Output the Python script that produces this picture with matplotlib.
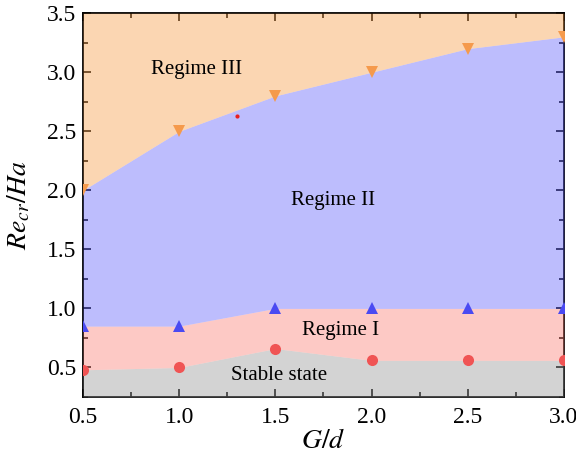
import matplotlib.pyplot as plt
from matplotlib.ticker import MultipleLocator

plt.rcParams['font.family'] = 'Liberation Serif'
plt.rcParams['mathtext.fontset'] = 'stix'

# G/d values and critical Re/Ha for each transition
gd = [0.5, 1.0, 1.5, 2.0, 2.5, 3.0]
re_stable = [0.48, 0.50, 0.66, 0.56, 0.56, 0.56]   # stable -> regime I
re_reg1 = [0.85, 0.85, 1.00, 1.00, 1.00, 1.00]     # regime I -> II
re_reg2 = [2.00, 2.50, 2.80, 3.00, 3.20, 3.30]     # regime II -> III
extra_x = [1.3]
extra_y = [2.63]

ymin, ymax = 0.25, 3.5
a = 0.4
c_gray = (0.57, 0.57, 0.57)
c_red = (0.98, 0.48, 0.44)
c_blue = (0.36, 0.36, 0.99)
c_orange = (0.97, 0.60, 0.25)

fig, ax = plt.subplots(figsize=(5.76, 4.55), dpi=100)
fig.subplots_adjust(left=0.144, right=0.979, top=0.971, bottom=0.1275)

ax.fill_between(gd, ymin, re_stable, color=c_gray, alpha=a, lw=0, zorder=3)
ax.fill_between(gd, re_stable, re_reg1, color=c_red, alpha=a, lw=0, zorder=3)
ax.fill_between(gd, re_reg1, re_reg2, color=c_blue, alpha=a, lw=0, zorder=3)
ax.fill_between(gd, re_reg2, ymax, color=c_orange, alpha=a, lw=0, zorder=3)

ax.plot(gd, re_stable, 'o', ms=8, mew=0, color='#f05454', zorder=4)
ax.plot(gd, re_reg1, '^', ms=9, mew=0, color='#4a4af2', zorder=4)
ax.plot(gd, re_reg2, 'v', ms=9, mew=0, color='#f59a4c', zorder=4)
ax.plot(extra_x, extra_y, 'o', ms=3, mew=0, color='#e82020', zorder=4)

ax.text(1.09, 3.02, 'Regime III', fontsize=15, ha='center', va='center', zorder=5)
ax.text(1.80, 1.915, 'Regime II', fontsize=15, ha='center', va='center', zorder=5)
ax.text(1.84, 0.81, 'Regime I', fontsize=15, ha='center', va='center', zorder=5)
ax.text(1.52, 0.43, 'Stable state', fontsize=15, ha='center', va='center', zorder=5)

ax.set_xlim(0.5, 3.0)
ax.set_ylim(ymin, ymax)
ax.xaxis.set_major_locator(MultipleLocator(0.5))
ax.xaxis.set_minor_locator(MultipleLocator(0.25))
ax.yaxis.set_major_locator(MultipleLocator(0.5))
ax.yaxis.set_minor_locator(MultipleLocator(0.25))
ax.xaxis.set_major_formatter(lambda v, p: f'{v:.1f}')
ax.yaxis.set_major_formatter(lambda v, p: f'{v:.1f}')
ax.tick_params(which='both', direction='in', top=True, right=True, labelsize=17, width=1.2)
ax.tick_params(which='major', length=6)
ax.tick_params(which='minor', length=3.5)
ax.tick_params(axis='x', pad=7)
ax.tick_params(axis='y', pad=5)
for s in ax.spines.values():
    s.set_linewidth(1.3)

ax.set_xlabel('$G/d$', fontsize=20, labelpad=1)
ax.set_ylabel('$Re_{cr}/Ha$', fontsize=20, labelpad=10)

plt.savefig('out.png')
